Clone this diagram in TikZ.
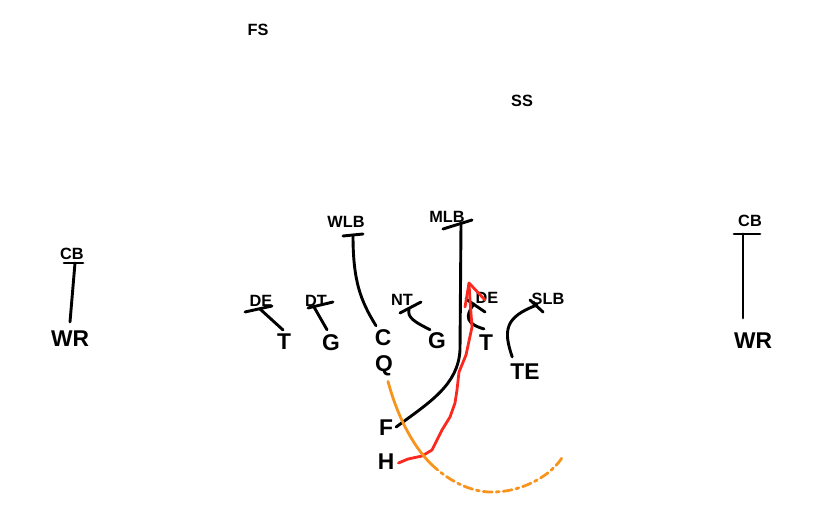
\documentclass[tikz,border=0pt]{standalone}
\usepackage{fontspec}
\setmainfont{Liberation Sans}
\begin{document}
\begin{tikzpicture}[x=1pt,y=-1pt,
  deflbl/.style={font=\fontsize{16.3}{16.3}\selectfont\bfseries, inner sep=0pt},
  offlbl/.style={font=\fontsize{22.8}{22.8}\selectfont\bfseries, inner sep=0pt},
  blk/.style={line width=2.9pt, line cap=round, black},
  barline/.style={line width=2.9pt, line cap=round, black},
  redrun/.style={line width=2.8pt, line cap=round, line join=round, color=runred},
  orangepass/.style={line width=2.8pt, line cap=round, color=passorange}]
\definecolor{runred}{RGB}{250,40,30}
\definecolor{passorange}{RGB}{247,148,29}
\useasboundingbox (0,0) rectangle (838,514);
% defense
\node[deflbl] (fs) at (258,30) {FS};
\node[deflbl] (ss) at (522,101) {SS};
\node[deflbl] (wlb) at (346,222) {WLB};
\node[deflbl] (mlb) at (447,217) {MLB};
\node[deflbl] (cbL) at (72,254) {CB};
\node[deflbl] (cbR) at (750,221) {CB};
\node[deflbl] (deL) at (261,301) {DE};
\node[deflbl] (dt) at (316,301) {DT};
\node[deflbl] (nt) at (402,300) {NT};
\node[deflbl] (deR) at (487,298) {DE};
\node[deflbl] (slb) at (548,299) {SLB};
% offense
\node[offlbl] (wrL) at (70,339) {WR};
\node[offlbl] (tL) at (284,342) {T};
\node[offlbl] (gL) at (331,343) {G};
\node[offlbl] (c) at (383,338) {C};
\node[offlbl] (gR) at (437,341) {G};
\node[offlbl] (tR) at (486,343) {T};
\node[offlbl] (te) at (525,372) {TE};
\node[offlbl] (wrR) at (753,341) {WR};
\node[offlbl] (q) at (384,366) {Q};
\node[offlbl] (f) at (386,428) {F};
\node[offlbl] (h) at (386,462) {H};
% block points
\coordinate (cbLp) at (75,263);
\coordinate (cbLa) at (64,263); \coordinate (cbLb) at (83,263);
\coordinate (cbRp) at (743,234);
\coordinate (cbRa) at (734,234); \coordinate (cbRb) at (760,234);
\coordinate (deLp) at (260,309);
\coordinate (deLa) at (245,312); \coordinate (deLb) at (272,306);
\coordinate (dtp) at (314,307);
\coordinate (dta) at (308,308); \coordinate (dtb) at (333,302);
\coordinate (wlbp) at (353,235);
\coordinate (wlba) at (343,236); \coordinate (wlbb) at (363,234);
\coordinate (ntp) at (409,309);
\coordinate (nta) at (400,313); \coordinate (ntb) at (421,302);
\coordinate (mlbp) at (461,224);
\coordinate (mlba) at (443,229); \coordinate (mlbb) at (472,220);
\coordinate (deRp) at (474,304);
\coordinate (deRa) at (466,299); \coordinate (deRb) at (485,312);
\coordinate (slbp) at (537,305);
\coordinate (slba) at (530,300); \coordinate (slbb) at (543,312);
\coordinate (tip) at (469,283);
\coordinate (passmid) at (431,464);
\coordinate (passend) at (563,456);
% blocks
\draw[blk] ([shift={(0,-9)}]wrL.north) -- (cbLp);
\draw[barline] (cbLa) -- (cbLb);
\draw[blk] ([shift={(-10,-15)}]wrR.north) -- (cbRp);
\draw[barline] (cbRa) -- (cbRb);
\draw[blk] ([shift={(-1,-4)}]tL.north) -- (deLp);
\draw[barline] (deLa) -- (deLb);
\draw[blk] ([shift={(-4,-5)}]gL.north) -- (dtp);
\draw[barline] (dta) -- (dtb);
\draw[blk] ([shift={(-7,-4)}]c.north) .. controls (360,300) and (353,280) .. (wlbp);
\draw[barline] (wlba) -- (wlbb);
\draw[blk] ([shift={(-7,-3)}]gR.north) .. controls (415,322) and (407,318) .. (ntp);
\draw[barline] (nta) -- (ntb);
\draw[blk] ([shift={(3,-1)}]f.east) .. controls (430,402) and (458,385) .. (460,350) -- (mlbp);
\draw[barline] (mlba) -- (mlbb);
\draw[blk] ([shift={(-2,-6)}]tR.north) .. controls (467,324) and (464,317) .. (deRp);
\draw[barline] (deRa) -- (deRb);
\draw[blk] ([shift={(2,-7)}]te.north west) .. controls (503,330) and (505,317) .. (slbp);
\draw[barline] (slba) -- (slbb);
% run
\draw[redrun] ([shift={(4,1)}]h.east) -- (408,459) -- (422,456) -- (432,450) -- (437,440) -- (442,430) -- (450,417) -- (455,403) -- (457,390) -- (459,372) -- (466,355) -- (472,327) -- (470,300) -- (tip);
\draw[redrun] (tip) -- (465,307);
\draw[redrun] (tip) -- (485,300);
% pass
\draw[orangepass] ([shift={(4,5)}]q.south) .. controls (397,415) and (412,445) .. (passmid);
\draw[orangepass, dash pattern=on 9pt off 4pt on 3pt off 4pt] (passmid) .. controls (452,484) and (475,493) .. (495,492) .. controls (525,491) and (553,474) .. (passend);
\end{tikzpicture}
\end{document}
